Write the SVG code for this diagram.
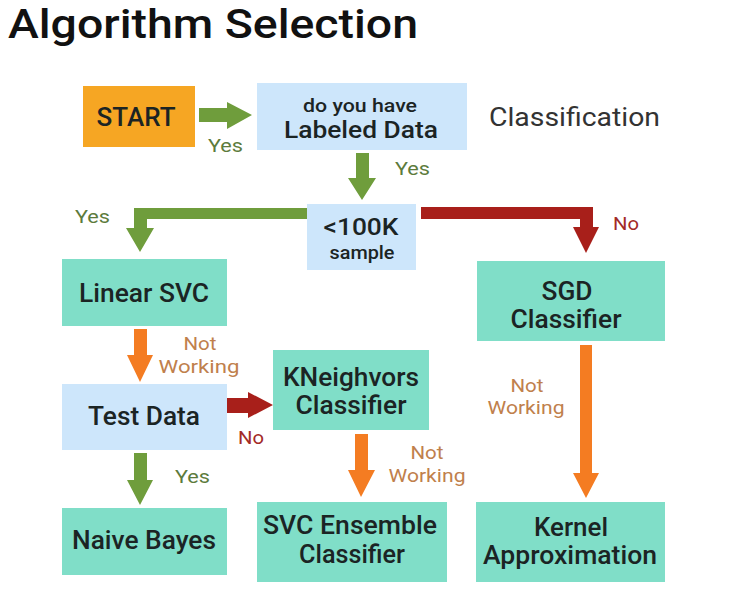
<svg xmlns="http://www.w3.org/2000/svg" width="740" height="599" viewBox="0 0 740 599">
<style>
.t{font-family:Roboto,"Liberation Sans",sans-serif;font-weight:500;fill:#1b2424;text-anchor:middle}
.teal{fill:#80dec8}
.blue{fill:#cde6fb}
.g{fill:#6f9d3c}
.r{fill:#a81f1a}
.o{fill:#f47c22}
.lg{font-family:Roboto,"Liberation Sans",sans-serif;font-size:19px;fill:#5d7b3c}
.lo{font-family:Roboto,"Liberation Sans",sans-serif;font-size:19px;fill:#c0804c;text-anchor:middle}
.lr{font-family:Roboto,"Liberation Sans",sans-serif;font-size:19px;fill:#a32a26}
</style>
<rect width="740" height="599" fill="#ffffff"/>
<text x="8" y="37.5" font-family="Roboto,'Liberation Sans',sans-serif" font-size="40" font-weight="500" fill="#111" textLength="410" lengthAdjust="spacingAndGlyphs">Algorithm Selection</text>
<text x="489" y="126" font-family="Roboto,'Liberation Sans',sans-serif" font-size="25" fill="#333" textLength="171" lengthAdjust="spacingAndGlyphs">Classification</text>

<g id="start"><rect x="83" y="86" width="112" height="61" fill="#f6a623"/><text class="t" x="136" y="126" font-size="25" font-weight="700" textLength="79" lengthAdjust="spacingAndGlyphs">START</text></g>
<g id="labeled"><rect class="blue" x="257" y="83" width="210" height="67"/><text class="t" x="360" y="112" font-size="19" textLength="114" lengthAdjust="spacingAndGlyphs">do you have</text><text class="t" x="361" y="138" font-size="23" textLength="154" lengthAdjust="spacingAndGlyphs">Labeled Data</text></g>
<g id="sample"><rect class="blue" x="307" y="204" width="109" height="66"/><text class="t" x="361" y="235" font-size="24" textLength="75" lengthAdjust="spacingAndGlyphs">&lt;100K</text><text class="t" x="362" y="259" font-size="18" textLength="65" lengthAdjust="spacingAndGlyphs">sample</text></g>
<g id="linearsvc"><rect class="teal" x="62" y="259" width="165" height="67"/><text class="t" x="144" y="302" font-size="25" textLength="130" lengthAdjust="spacingAndGlyphs">Linear SVC</text></g>
<g id="sgd"><rect class="teal" x="477" y="261" width="188" height="80"/><text class="t" x="567" y="300" font-size="25" textLength="51" lengthAdjust="spacingAndGlyphs">SGD</text><text class="t" x="566" y="328" font-size="25" textLength="111" lengthAdjust="spacingAndGlyphs">Classifier</text></g>
<g id="testdata"><rect class="blue" x="62" y="384" width="165" height="66"/><text class="t" x="144" y="425" font-size="25" textLength="112" lengthAdjust="spacingAndGlyphs">Test Data</text></g>
<g id="kneighbors"><rect class="teal" x="273" y="350" width="156" height="80"/><text class="t" x="351" y="386" font-size="25" textLength="136" lengthAdjust="spacingAndGlyphs">KNeighvors</text><text class="t" x="351" y="414" font-size="25" textLength="111" lengthAdjust="spacingAndGlyphs">Classifier</text></g>
<g id="naivebayes"><rect class="teal" x="62" y="508" width="165" height="67"/><text class="t" x="144" y="549" font-size="25" textLength="144" lengthAdjust="spacingAndGlyphs">Naive Bayes</text></g>
<g id="svcensemble"><rect class="teal" x="257" y="502" width="190" height="80"/><text class="t" x="350" y="534" font-size="25" textLength="174" lengthAdjust="spacingAndGlyphs">SVC Ensemble</text><text class="t" x="352" y="563" font-size="25" textLength="106" lengthAdjust="spacingAndGlyphs">Classifier</text></g>
<g id="kernel"><rect class="teal" x="476" y="502" width="189" height="80"/><text class="t" x="571" y="536" font-size="25" textLength="74" lengthAdjust="spacingAndGlyphs">Kernel</text><text class="t" x="570" y="564" font-size="25" textLength="174" lengthAdjust="spacingAndGlyphs">Approximation</text></g>

<g id="connectors">
<polygon class="g" points="199,108 227,108 227,102 252,115 227,129 227,122 199,122"/>
<polygon class="g" points="356,153 369,153 369,178 376,178 362,200 348,178 356,178"/>
<polygon class="g" points="307,208 307,219 147,219 147,228 154,228 140,252 126,228 134,228 134,208"/>
<polygon class="r" points="421,207 593,207 593,227 599,227 586,253 573,227 580,227 580,219 421,219"/>
<polygon class="o" points="134,329 147,329 147,355 153,355 140,382 127,355 134,355"/>
<polygon class="r" points="227,398 248,398 248,392 273,405 248,418 248,413 227,413"/>
<polygon class="o" points="355,434 368,434 368,470 375,470 361,497 348,470 355,470"/>
<polygon class="g" points="134,453 147,453 147,480 153,480 140,505 127,480 134,480"/>
<polygon class="o" points="580,345 592,345 592,473 599,473 586,498 573,473 580,473"/>
<text class="lg" x="208" y="152" textLength="35" lengthAdjust="spacingAndGlyphs">Yes</text>
<text class="lg" x="395" y="175" textLength="35" lengthAdjust="spacingAndGlyphs">Yes</text>
<text class="lg" x="75" y="223" textLength="35" lengthAdjust="spacingAndGlyphs">Yes</text>
<text class="lr" x="613" y="230" textLength="26" lengthAdjust="spacingAndGlyphs">No</text>
<text class="lo" x="200" y="350" textLength="33" lengthAdjust="spacingAndGlyphs">Not</text><text class="lo" x="199" y="373" textLength="81" lengthAdjust="spacingAndGlyphs">Working</text>
<text class="lr" x="238" y="444" textLength="26" lengthAdjust="spacingAndGlyphs">No</text>
<text class="lo" x="427" y="459" textLength="33" lengthAdjust="spacingAndGlyphs">Not</text><text class="lo" x="427" y="482" textLength="77" lengthAdjust="spacingAndGlyphs">Working</text>
<text class="lg" x="175" y="483" textLength="35" lengthAdjust="spacingAndGlyphs">Yes</text>
<text class="lo" x="527" y="392" textLength="33" lengthAdjust="spacingAndGlyphs">Not</text><text class="lo" x="526" y="414" textLength="77" lengthAdjust="spacingAndGlyphs">Working</text>
</g>
</svg>
